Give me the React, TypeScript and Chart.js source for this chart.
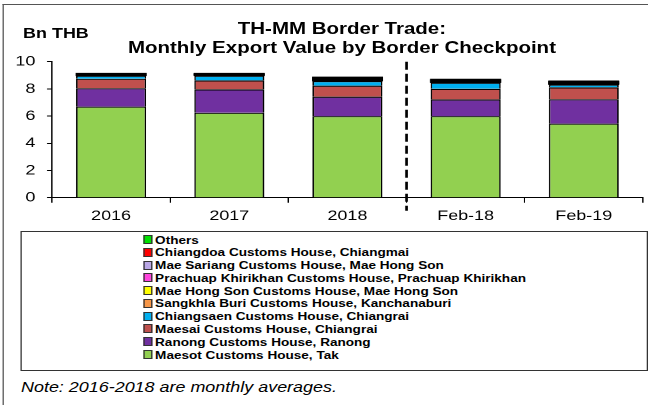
import React, { useEffect, useRef } from "react";
import { Chart, registerables } from "chart.js";

Chart.register(...registerables);

// ---- Data ----
const categories = ["2016", "2017", "2018", "Feb-18", "Feb-19"];
const maesot = [6.7, 6.25, 6.0, 6.0, 5.45];
const ranong = [1.35, 1.72, 1.43, 1.23, 1.79];
const maesai = [0.7, 0.66, 0.81, 0.78, 0.88];
const chiangsaen = [0.22, 0.34, 0.34, 0.45, 0.2];
const sangkhlaBuri = [0.03, 0.03, 0.05, 0.04, 0.05];
const maeHongSon = [0.03, 0.03, 0.05, 0.05, 0.04];
const prachuap = [0.03, 0.03, 0.04, 0.04, 0.04];
const maeSariang = [0.03, 0.03, 0.05, 0.04, 0.05];
const chiangdoa = [0.03, 0.03, 0.05, 0.04, 0.05];
const others = [0.03, 0.03, 0.05, 0.05, 0.04];
const yTicks = [0, 2, 4, 6, 8, 10];

const seriesNames = [
  "Maesot Customs House, Tak",
  "Ranong Customs House, Ranong",
  "Maesai Customs House, Chiangrai",
  "Chiangsaen Customs House, Chiangrai",
  "Sangkhla Buri Customs House, Kanchanaburi",
  "Mae Hong Son Customs House, Mae Hong Son",
  "Prachuap Khirikhan Customs House, Prachuap Khirikhan",
  "Mae Sariang Customs House, Mae Hong Son",
  "Chiangdoa Customs House, Chiangmai",
  "Others",
];
const seriesValues = [maesot, ranong, maesai, chiangsaen, sangkhlaBuri, maeHongSon, prachuap, maeSariang, chiangdoa, others];
const seriesColors = ["#92D050", "#7030A0", "#C0504D", "#00B0F0", "#F79646", "#FFFF00", "#FF44DD", "#B9A6E6", "#FF0000", "#00E000"];
// thin slivers are rendered as their black outline in the reference
const barFillColors = ["#92D050", "#7030A0", "#C0504D", "#00B0F0", "#000", "#000", "#000", "#000", "#000", "#000"];
const barBorderWidths = [1.2, 1.2, 1.2, 1.2, 0, 0, 0, 0, 0, 0];

const SX = 648 / 506;
const FONT = "'Liberation Sans', Arial, sans-serif";

const dividerPlugin = {
  id: "divider",
  afterDraw(chart: any) {
    const xs = chart.scales.x;
    const px = (xs.getPixelForValue(2) + xs.getPixelForValue(3)) / 2;
    const ctx = chart.ctx;
    ctx.save();
    ctx.strokeStyle = "#000";
    ctx.lineWidth = 2;
    ctx.setLineDash([8, 4]);
    ctx.beginPath();
    ctx.moveTo(px, chart.chartArea.top);
    ctx.lineTo(px, chart.chartArea.bottom + 13);
    ctx.stroke();
    ctx.restore();
  },
};

export default function App() {
  const ref = useRef<HTMLCanvasElement | null>(null);

  useEffect(() => {
    if (!ref.current) return;
    const chart = new Chart(ref.current, {
      type: "bar",
      data: {
        labels: categories,
        datasets: seriesNames.map((n, i) => ({
          label: n,
          data: seriesValues[i],
          backgroundColor: barFillColors[i],
          borderColor: "#000",
          borderWidth: barBorderWidths[i],
          inflateAmount: i >= 4 ? 0.4 : "auto",
          barPercentage: 0.592,
          categoryPercentage: 1,
        })),
      },
      options: {
        animation: false,
        responsive: false,
        devicePixelRatio: 2,
        layout: { padding: { left: 0, right: 4, top: 61.7, bottom: 4 } },
        plugins: {
          legend: { display: false },
          title: { display: false },
          tooltip: { enabled: false },
        },
        scales: {
          x: {
            stacked: true,
            grid: { offset: true, drawOnChartArea: false, drawTicks: true, tickLength: 5, color: "#000" },
            border: { display: true, color: "#000", width: 1 },
            ticks: { color: "#000", font: { family: FONT, size: 14 }, padding: 5, maxRotation: 0 },
            afterFit: (s: any) => {
              s.height = 28.3;
            },
          },
          y: {
            stacked: true,
            min: 0,
            max: 10,
            afterBuildTicks: (s: any) => {
              s.ticks = yTicks.map((v) => ({ value: v }));
            },
            ticks: { color: "#000", font: { family: FONT, size: 14 }, padding: 9 },
            grid: { drawOnChartArea: false, drawTicks: true, tickLength: 4, color: "#000" },
            border: { display: true, color: "#000", width: 1 },
            afterFit: (s: any) => {
              s.width = 40.6;
            },
          },
        },
      },
      plugins: [dividerPlugin],
    });
    return () => chart.destroy();
  }, []);

  const legendOrder = seriesNames.map((_, i) => seriesNames.length - 1 - i);

  return (
    <div
      style={{
        position: "absolute",
        left: 0,
        top: 0,
        width: 506,
        height: 405,
        background: "#fff",
        transform: `scaleX(${SX})`,
        transformOrigin: "0 0",
        overflow: "hidden",
        fontFamily: FONT,
      }}
    >
      <div
        style={{
          position: "absolute",
          left: 2,
          top: 4,
          width: 520,
          height: 420,
          borderLeft: "1px solid #555",
          borderTop: "1px solid #555",
          boxSizing: "border-box",
        }}
      />
      <canvas ref={ref} width={506} height={230} style={{ position: "absolute", left: 0, top: 0 }} />
      <div
        style={{
          position: "absolute",
          left: 18,
          top: 24,
          fontSize: 14,
          fontWeight: "bold",
          lineHeight: "18px",
          color: "#000",
        }}
      >
        Bn THB
      </div>
      <div
        style={{
          position: "absolute",
          left: 67,
          width: 400,
          top: 19,
          fontSize: 16,
          fontWeight: "bold",
          lineHeight: "19px",
          textAlign: "center",
          color: "#000",
        }}
      >
        <div>TH-MM Border Trade:</div>
        <div>Monthly Export Value by Border Checkpoint</div>
      </div>
      <div
        style={{
          position: "absolute",
          left: 15.6,
          top: 231,
          width: 490,
          height: 140,
          border: "1px solid #333",
          boxSizing: "border-box",
        }}
      >
        {legendOrder.map((idx, r) => (
          <div
            key={idx}
            style={{
              position: "absolute",
              left: 95,
              top: 1.5 + r * 12.78,
              height: 12.78,
              lineHeight: "12.78px",
              fontSize: 10.6,
              fontWeight: "bold",
              whiteSpace: "nowrap",
              color: "#000",
            }}
          >
            <span
              style={{
                display: "inline-block",
                width: 5,
                height: 7,
                background: seriesColors[idx],
                border: "1px solid #333",
                marginRight: 2.5,
                verticalAlign: "-0.5px",
              }}
            />
            {seriesNames[idx]}
          </div>
        ))}
      </div>
      <div
        style={{
          position: "absolute",
          left: 16.4,
          top: 378,
          fontSize: 14,
          fontStyle: "italic",
          lineHeight: "18px",
          color: "#000",
          whiteSpace: "nowrap",
        }}
      >
        Note: 2016-2018 are monthly averages.
      </div>
    </div>
  );
}
